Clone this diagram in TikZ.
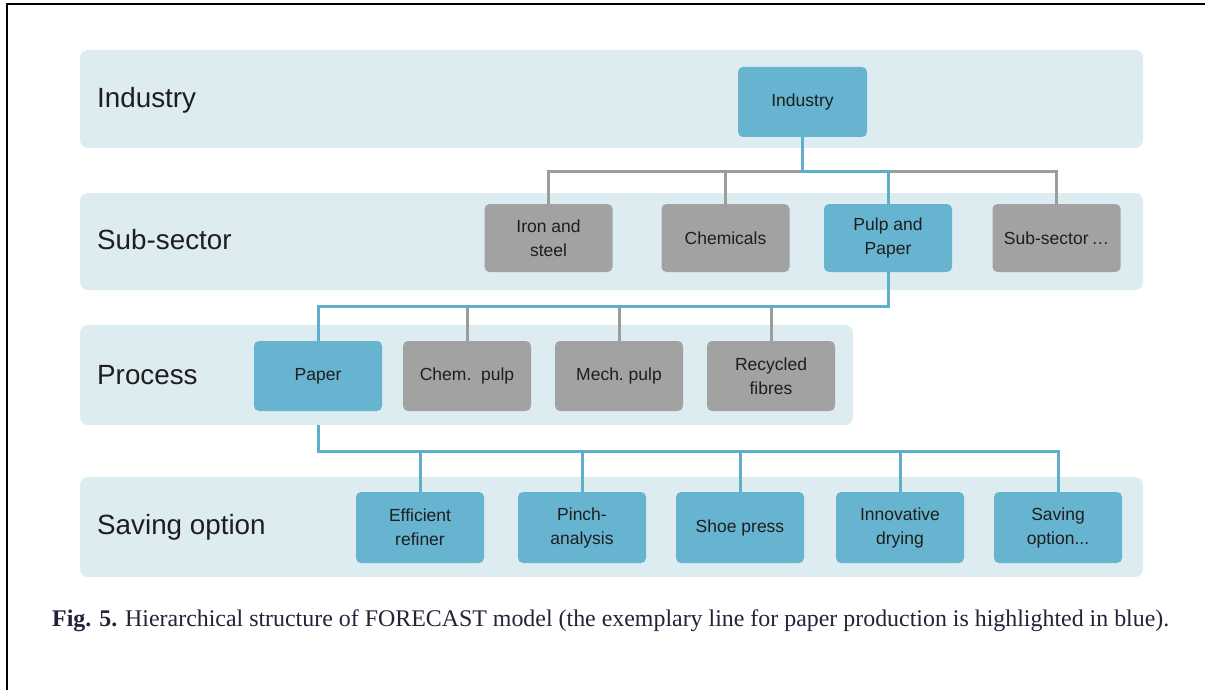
\documentclass[tikz,border=0pt]{standalone}
\usepackage{fontspec}
\setmainfont{Liberation Serif}
\newfontfamily\diagfont{Liberation Sans}
\usetikzlibrary{positioning}
\definecolor{bandfill}{HTML}{DDECF1}
\definecolor{bluefill}{HTML}{66B4CF}
\definecolor{greyfill}{HTML}{A2A2A2}
\definecolor{blueline}{HTML}{5FAFCA}
\definecolor{greyline}{HTML}{9C9C9C}
\definecolor{boxtext}{HTML}{1E1E1E}
\definecolor{captext}{HTML}{23233A}
\tikzset{
  band/.style={fill=bandfill, draw=none, rounded corners=8pt},
  levellabel/.style={anchor=west, inner sep=0pt, font=\diagfont\fontsize{27.8}{30}\selectfont, text=boxtext},
  box/.style={rounded corners=5pt, draw=none, minimum width=128pt, minimum height=70pt,
    inner sep=0pt, align=center, text=boxtext, font=\diagfont\fontsize{17.5}{24}\selectfont},
  bluebox/.style={box, fill=bluefill},
  greybox/.style={box, fill=greyfill},
  bconn/.style={draw=blueline, line width=3pt},
  gconn/.style={draw=greyline, line width=3pt},
}
\begin{document}
\begin{tikzpicture}[x=1pt,y=-1pt]
\useasboundingbox (0,0) rectangle (1205,690);
\fill[white] (0,0) rectangle (1205,690);
% frame on the left and top edges
\draw[line width=2.6pt, black] (7,690) -- (7,4) -- (1205,4);

% level bands
\path[band] (80,50) rectangle (1143,148);
\path[band] (80,193) rectangle (1143,290);
\node[band, minimum width=773pt, minimum height=100pt, inner sep=0pt] (procband) at (466.5,375) {};
\path[band] (80,477) rectangle (1143,577);

% level labels
\node[levellabel] (lInd) at (97,100) {Industry};
\node[levellabel] (lSub) at (97,240) {Sub-sector};
\node[levellabel] (lProc) at (97,375) {Process};
\node[levellabel] (lSave) at (97,527) {Saving option};

% industry
\node[bluebox, minimum width=129pt] (ind) at (802.5,102) {Industry};

% sub-sectors
\node[greybox, minimum height=68pt] (iron) at (548.5,238) {Iron and\\steel};
\node[greybox, minimum height=68pt] (chem) at (725.5,238) {Chemicals};
\node[bluebox, minimum height=68pt] (pulp) at (888,238) {Pulp and\\Paper};
\node[greybox, minimum height=68pt] (subx) at (1056.5,238) {Sub-sector\,\ldots};

% processes
\node[bluebox] (paper) at (318,376) {Paper};
\node[greybox] (chemp) at (467,376) {Chem.\ \ pulp};
\node[greybox] (mechp) at (619,376) {Mech.\ pulp};
\node[greybox] (recyc) at (771,376) {Recycled\\fibres};

% saving options
\node[bluebox, minimum height=71pt] (refin) at (420,527.5) {Efficient\\refiner};
\node[bluebox, minimum height=71pt] (pinch) at (582,527.5) {Pinch-\\analysis};
\node[bluebox, minimum height=71pt] (shoe) at (740,527.5) {Shoe press};
\node[bluebox, minimum height=71pt] (dry) at (900,527.5) {Innovative\\drying};
\node[bluebox, minimum height=71pt] (optx) at (1058,527.5) {Saving\\option...};

% rails of the connectors
\coordinate (r1) at (0,172);
\coordinate (r2) at (0,306);
\coordinate (r3) at (0,451);

% industry -> sub-sectors
\draw[gconn] (iron.north) -- (iron.north |- r1) -- (subx.north |- r1) -- (subx.north);
\draw[gconn] (chem.north) -- (chem.north |- r1);
\draw[bconn] (ind.south) -- (ind.south |- r1) -- (pulp.north |- r1) -- (pulp.north);

% pulp and paper -> processes
\draw[gconn] (chemp.north) -- (chemp.north |- r2);
\draw[gconn] (mechp.north) -- (mechp.north |- r2);
\draw[gconn] (recyc.north) -- (recyc.north |- r2);
\draw[bconn] (pulp.south) -- (pulp.south |- r2) -- (paper.north |- r2) -- (paper.north);

% paper -> saving options
\draw[bconn] (paper.south |- procband.south) -- (paper.south |- r3) -- (optx.north |- r3) -- (optx.north);
\draw[bconn] (refin.north) -- (refin.north |- r3);
\draw[bconn] (pinch.north) -- (pinch.north |- r3);
\draw[bconn] (shoe.north) -- (shoe.north |- r3);
\draw[bconn] (dry.north) -- (dry.north |- r3);

% caption
\node[anchor=base west, inner sep=0pt, text=captext, font=\fontsize{23.9}{27}\selectfont] (cap) at (52,626)
  {\textbf{Fig. 5.} Hierarchical structure of FORECAST model (the exemplary line for paper production is highlighted in blue).};
\end{tikzpicture}
\end{document}
